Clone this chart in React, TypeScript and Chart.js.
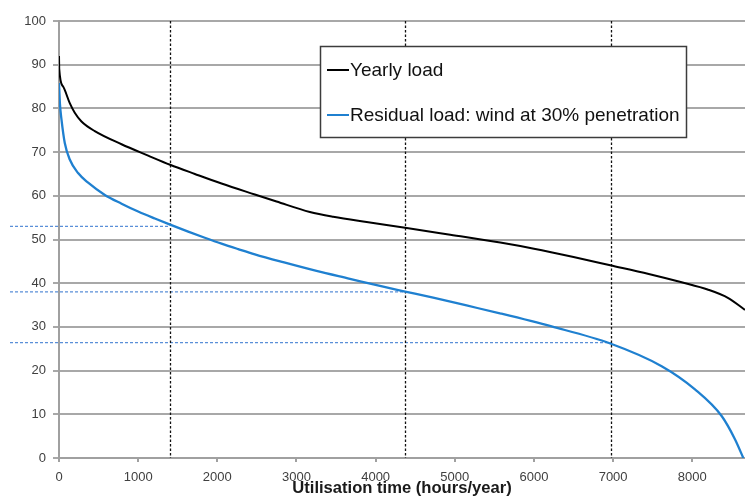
import { useEffect, useRef } from "react";
import { Chart, registerables } from "chart.js";

Chart.register(...registerables);

const yearlyHours = [0, 3, 52, 136, 199, 284, 452, 790, 1126, 1404, 1716, 2053, 2474, 2748, 3169, 3464, 3886, 4373, 4942, 5574, 6000, 6500, 6964, 7450, 7866, 8202, 8455, 8666];
const yearlyLoad = [92, 89, 85.0, 81.2, 79.0, 77.0, 74.8, 71.8, 69.2, 67.1, 65.0, 62.8, 60.3, 58.7, 56.3, 55.2, 54.0, 52.7, 51.1, 49.3, 47.9, 46.0, 44.1, 42.1, 40.2, 38.5, 36.6, 33.9];

const residualHours = [0, 12, 32, 73, 136, 241, 368, 579, 790, 1000, 1211, 1404, 1632, 1842, 2053, 2264, 2474, 2832, 3253, 3675, 4096, 4373, 4727, 5149, 5570, 6223, 6964, 7613, 8034, 8371, 8539, 8645];
const residualLoad = [85.8, 81.0, 77.4, 72.1, 68.3, 65.2, 63.0, 60.2, 58.2, 56.4, 54.8, 53.4, 51.8, 50.4, 49.05, 47.8, 46.6, 44.8, 42.8, 41.0, 39.2, 38.1, 36.7, 34.9, 33.1, 30.1, 26.2, 21.0, 15.7, 9.6, 4.3, 0];

const markerHours = [1400, 4375, 6975];
const markerLoads = [53, 38.0, 26.4];

const xTickValues = [0, 1000, 2000, 3000, 4000, 5000, 6000, 7000, 8000];
const yTickValues = [0, 10, 20, 30, 40, 50, 60, 70, 80, 90, 100];

const seriesLabels = ["Yearly load", "Residual load: wind at 30% penetration"];
const xTitle = "Utilisation time (hours/year)";

const FONT = "'Liberation Sans', Arial, sans-serif";

const markerPlugin = {
  id: "markers",
  beforeDatasetsDraw(chart: any) {
    const { ctx, chartArea, scales } = chart;
    const xs = scales.x;
    const ys = scales.y;
    ctx.save();
    ctx.strokeStyle = "#5a8fd8";
    ctx.lineWidth = 1.2;
    ctx.setLineDash([3, 2]);
    markerLoads.forEach((v, i) => {
      const y = ys.getPixelForValue(v);
      const x = xs.getPixelForValue(markerHours[i]);
      ctx.beginPath();
      ctx.moveTo(10, y);
      ctx.lineTo(x, y);
      ctx.stroke();
    });
    ctx.strokeStyle = "#111";
    ctx.lineWidth = 1.3;
    ctx.setLineDash([2.5, 2]);
    markerHours.forEach((h) => {
      const x = Math.round(xs.getPixelForValue(h)) + 0.5;
      ctx.beginPath();
      ctx.moveTo(x, chartArea.top);
      ctx.lineTo(x, chartArea.bottom);
      ctx.stroke();
    });
    ctx.restore();
  },
  afterDraw(chart: any) {
    const { ctx } = chart;
    ctx.save();
    const bx = 320.5, by = 46.5, bw = 366, bh = 91;
    ctx.fillStyle = "#ffffff";
    ctx.fillRect(bx, by, bw, bh);
    ctx.strokeStyle = "#3c3c3c";
    ctx.lineWidth = 1.5;
    ctx.setLineDash([]);
    ctx.strokeRect(bx, by, bw, bh);
    const rows = [70, 115];
    chart.data.datasets.forEach((ds: any, i: number) => {
      const y = rows[i];
      ctx.strokeStyle = ds.borderColor;
      ctx.lineWidth = 2;
      ctx.beginPath();
      ctx.moveTo(327, y);
      ctx.lineTo(349, y);
      ctx.stroke();
      ctx.fillStyle = "#111";
      ctx.font = `19px ${FONT}`;
      ctx.textBaseline = "middle";
      ctx.textAlign = "left";
      ctx.fillText(ds.label, 350, y + 1);
    });
    ctx.restore();
  },
};

export default function App() {
  const ref = useRef<HTMLCanvasElement | null>(null);

  useEffect(() => {
    document.body.style.margin = "0";
    const canvas = ref.current;
    if (!canvas) return;
    const chart = new Chart(canvas, {
      type: "line",
      data: {
        datasets: [
          {
            label: seriesLabels[0],
            data: yearlyHours.map((h, i) => ({ x: h, y: yearlyLoad[i] })),
            borderColor: "#000000",
            borderWidth: 2,
            pointRadius: 0,
            cubicInterpolationMode: "monotone",
            fill: false,
          },
          {
            label: seriesLabels[1],
            data: residualHours.map((h, i) => ({ x: h, y: residualLoad[i] })),
            borderColor: "#1f80d0",
            borderWidth: 2.3,
            pointRadius: 0,
            cubicInterpolationMode: "monotone",
            fill: false,
          },
        ],
      },
      options: {
        animation: false,
        responsive: false,
        maintainAspectRatio: false,
        layout: { padding: { top: 21, right: 0, left: 0, bottom: 0 } },
        plugins: {
          legend: { display: false },
          tooltip: { enabled: false },
        },
        scales: {
          x: {
            type: "linear",
            min: 0,
            max: 8666,
            afterBuildTicks: (scale: any) => {
              scale.ticks = xTickValues.map((v) => ({ value: v }));
            },
            afterFit: (scale: any) => {
              scale.height = 40;
            },
            ticks: {
              color: "#404040",
              font: { family: FONT, size: 13 },
              padding: 8,
              maxRotation: 0,
              autoSkip: false,
              callback: (v: any) => String(v),
            },
            grid: {
              display: true,
              drawOnChartArea: false,
              drawTicks: true,
              tickLength: 4,
              color: "#a0a0a0",
              lineWidth: 2,
            },
            border: { display: true, color: "#a0a0a0", width: 2 },
            title: {
              display: true,
              text: xTitle,
              color: "#1a1a1a",
              font: { family: FONT, size: 16.6, weight: "bold" },
              padding: { top: 0, bottom: 0 },
            },
          },
          y: {
            type: "linear",
            min: 0,
            max: 100,
            afterBuildTicks: (scale: any) => {
              scale.ticks = yTickValues.map((v) => ({ value: v }));
            },
            afterFit: (scale: any) => {
              scale.width = 59;
            },
            ticks: {
              color: "#404040",
              font: { family: FONT, size: 13 },
              padding: 7,
              callback: (v: any) => String(v),
            },
            grid: {
              color: "#a8a8a8",
              lineWidth: 2,
              drawTicks: true,
              tickLength: 6,
            },
            border: { display: true, color: "#a0a0a0", width: 2 },
          },
        },
      },
      plugins: [markerPlugin],
    } as any);
    return () => chart.destroy();
  }, []);

  return (
    <div style={{ width: 745, height: 498 }}>
      <canvas ref={ref} width={745} height={498} style={{ display: "block", width: 745, height: 498 }} />
    </div>
  );
}
